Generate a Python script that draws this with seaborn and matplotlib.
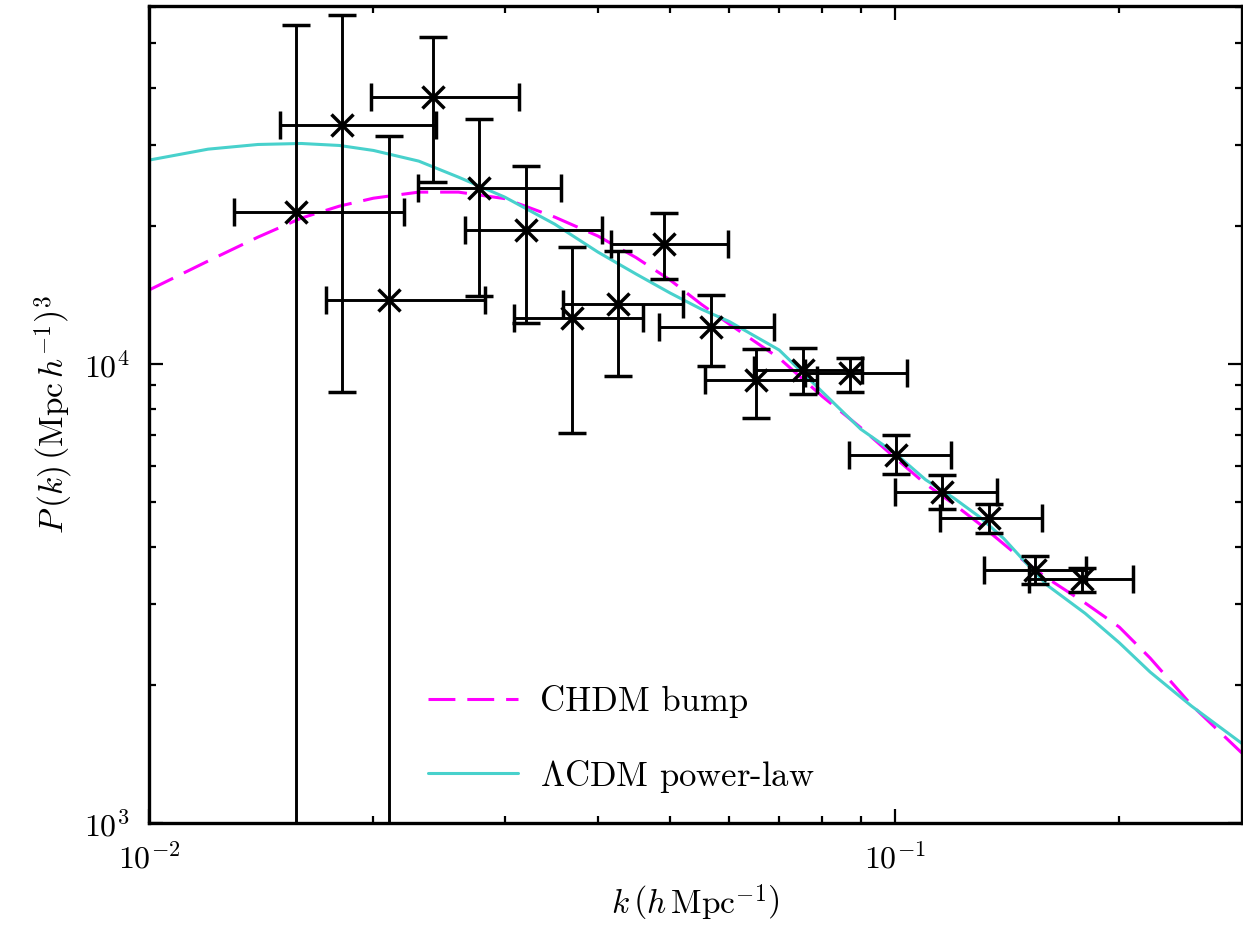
import numpy as np
import pandas as pd
import matplotlib
matplotlib.use("Agg")
import matplotlib.pyplot as plt
import seaborn as sns

# ---- data ----
k_obs = [0.01576, 0.01817, 0.02402, 0.02098, 0.02773, 0.03202, 0.04907, 0.03691,
         0.04249, 0.05676, 0.06521, 0.07527, 0.08698, 0.1004, 0.1157, 0.1336,
         0.1543, 0.1781]
k_lo = [0.01300, 0.01497, 0.01982, 0.01725, 0.02296, 0.02657, 0.04163, 0.03090,
        0.03586, 0.04831, 0.05566, 0.06475, 0.07575, 0.08678, 0.1000, 0.1149,
        0.1318, 0.1512]
k_hi = [0.02195, 0.02427, 0.03139, 0.02823, 0.03568, 0.04050, 0.05980, 0.04600,
        0.05201, 0.06887, 0.07870, 0.09034, 0.1038, 0.1191, 0.1371, 0.1575,
        0.1807, 0.2089]
P_obs = [21470, 33170, 38230, 13785, 24140, 19580, 18230, 12580, 13510, 12060,
         9230, 9703, 9572, 6337, 5270, 4611, 3557, 3396]
P_hi = [54780, 57600, 51500, 31430, 34190, 27040, 21300, 18010, 17650, 14136,
        10770, 10820, 10320, 7004, 5730, 4954, 3816, 3599]
P_lo = [1, 8676, 24960, 1, 14065, 12265, 15300, 7085, 9430, 9915,
        7614, 8590, 8705, 5758, 4832, 4290, 3311, 3191]

k_model = [0.010, 0.012, 0.014, 0.016, 0.018, 0.020, 0.023, 0.026, 0.030, 0.035,
           0.040, 0.045, 0.050, 0.055, 0.060, 0.070, 0.080, 0.090, 0.100, 0.110,
           0.120, 0.130, 0.140, 0.150, 0.160, 0.180, 0.200, 0.220, 0.250, 0.292]
P_lcdm = [27830, 29400, 30100, 30250, 29950, 29210, 27690, 25550, 23110, 20180,
          17540, 15710, 14280, 13180, 12380, 10730, 8690, 7218, 6401, 5597,
          5106, 4642, 4168, 3686, 3300, 2863, 2471, 2133, 1798, 1491]
P_chdm = [14500, 16770, 18910, 20800, 22090, 22990, 23700, 23700, 22940, 20910,
          19010, 17060, 15240, 13510, 12220, 10300, 8496, 7272, 6257, 5478,
          4954, 4481, 4054, 3693, 3418, 3016, 2673, 2288, 1807, 1421]

labels = ["CHDM bump", r"$\Lambda$CDM power-law"]

# ---- style ----
sns.set_style("ticks")
plt.rcParams["font.family"] = "serif"
plt.rcParams["font.serif"] = ["cmr10", "DejaVu Serif"]
plt.rcParams["mathtext.fontset"] = "cm"
plt.rcParams["axes.formatter.use_mathtext"] = True
plt.rcParams["axes.unicode_minus"] = False
for key in ["text.color", "axes.labelcolor", "xtick.color", "ytick.color",
            "axes.edgecolor", "xtick.labelcolor", "ytick.labelcolor"]:
    plt.rcParams[key] = "black"

fig = plt.figure(figsize=(12.43, 9.30), dpi=100)
ax = fig.add_axes([149 / 1243, 1 - 823 / 930, (1243 - 149) / 1243 - 0.0005, (823 - 6) / 930])

df = pd.DataFrame({"k": k_model * 2,
                   "P": P_chdm + P_lcdm,
                   "model": [labels[0]] * len(k_model) + [labels[1]] * len(k_model)})

sns.lineplot(data=df[df.model == labels[0]], x="k", y="P", ax=ax, color="#FF00FF",
             lw=2.2, dashes=False, label=labels[0], estimator=None, sort=True)
ax.lines[-1].set_dashes((8.8, 3.9))
sns.lineplot(data=df[df.model == labels[1]], x="k", y="P", ax=ax, color="#48D1CC",
             lw=2.2, label=labels[1], estimator=None, sort=True)

k_obs_a = np.array(k_obs)
P_obs_a = np.array(P_obs)
xerr = [k_obs_a - np.array(k_lo), np.array(k_hi) - k_obs_a]
yerr = [P_obs_a - np.array(P_lo), np.array(P_hi) - P_obs_a]
ax.errorbar(k_obs_a, P_obs_a, xerr=xerr, yerr=yerr, fmt="x", color="black",
            ms=16, mew=2.5, elinewidth=2.1, capsize=10, capthick=2.1, zorder=5)

ax.set_xscale("log")
ax.set_yscale("log")
ax.set_xlim(0.01, 0.2925)
ax.set_ylim(1e3, 6.03e4)

for s in ax.spines.values():
    s.set_linewidth(2.4)
    s.set_visible(True)
ax.tick_params(which="both", direction="in", top=True, right=True, labelsize=23,
               width=1.6, color="black")
ax.tick_params(which="major", length=10, pad=14)
ax.tick_params(which="minor", length=5)

ax.set_xlabel(r"$k\,\left(h\,\mathrm{Mpc}^{-1}\right)$", fontsize=24, labelpad=6)
ax.set_ylabel(r"$P\,(k)\,\left(\mathrm{Mpc}\,h^{-1}\right)^3$", fontsize=24, labelpad=6)

leg = ax.legend(loc="center left", bbox_to_anchor=(0.255, 0.102), frameon=False,
                fontsize=25, handlelength=2.6, handletextpad=0.64, labelspacing=1.15,
                borderpad=0, borderaxespad=0)

fig.savefig("out.png", dpi=100)
